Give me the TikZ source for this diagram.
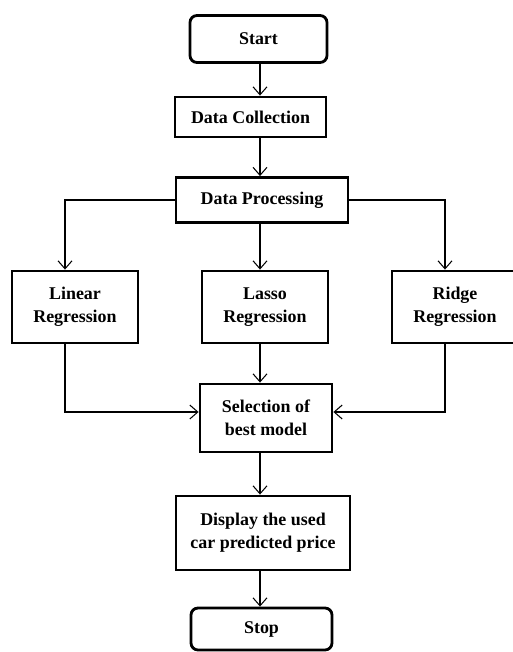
\documentclass[tikz,border=0pt]{standalone}
\usepackage{fontspec}
\setmainfont{Liberation Serif}
\usetikzlibrary{arrows.meta,positioning}
\tikzset{
  bloque/.style={draw,line width=1.6pt,align=center,inner sep=2pt,
                 font=\fontsize{10.2}{13}\selectfont\bfseries},
  terminal/.style={bloque,rounded corners=4pt},
  flecha/.style={-{Straight Barb[length=1.6mm,width=2.8mm]},line width=0.6pt},
}
\begin{document}
\begin{tikzpicture}
\useasboundingbox[fill=white] (0,0) rectangle (10.24,-13.04);
\coordinate (eje) at (5.2,0);

\node[terminal,minimum width=2.74cm,minimum height=0.94cm] (start)   at (5.17,-0.78)  {Start};
\node[bloque,minimum width=3.02cm,minimum height=0.80cm]   (collect) at (5.01,-2.34)  {Data Collection};
\node[bloque,minimum width=3.44cm,minimum height=0.90cm]   (process) at (5.24,-4.00)  {Data Processing};
\node[bloque,minimum width=2.52cm,minimum height=1.44cm]   (linear)  at (1.50,-6.14)  {Linear\\Regression};
\node[bloque,minimum width=2.52cm,minimum height=1.44cm]   (lasso)   at (5.30,-6.14)  {Lasso\\Regression};
\node[bloque,minimum width=2.52cm,minimum height=1.44cm]   (ridge)   at (9.10,-6.14)  {Ridge\\Regression};
\node[bloque,minimum width=2.64cm,minimum height=1.36cm]   (select)  at (5.32,-8.36)  {Selection of\\best model};
\node[bloque,minimum width=3.48cm,minimum height=1.48cm]   (display) at (5.26,-10.66) {Display the used\\car predicted price};
\node[terminal,minimum width=2.82cm,minimum height=0.84cm] (stop)    at (5.23,-12.58) {Stop};

\draw[flecha] (start.south -| eje) -- (collect.north -| eje);
\draw[flecha] (collect.south -| eje) -- (process.north -| eje);
\draw[flecha] (process.south -| eje) -- (lasso.north -| eje);
\draw[flecha] (process.west) -| ([xshift=-2mm]linear.north);
\draw[flecha] (process.east) -| ([xshift=-2mm]ridge.north);
\draw[flecha] (lasso.south -| eje) -- (select.north -| eje);
\draw[flecha] ([xshift=-2mm]linear.south) |- ([yshift=1.2mm]select.west);
\draw[flecha] ([xshift=-2mm]ridge.south) |- ([yshift=1.2mm]select.east);
\draw[flecha] (select.south -| eje) -- (display.north -| eje);
\draw[flecha] (display.south -| eje) -- (stop.north -| eje);

\end{tikzpicture}
\end{document}
